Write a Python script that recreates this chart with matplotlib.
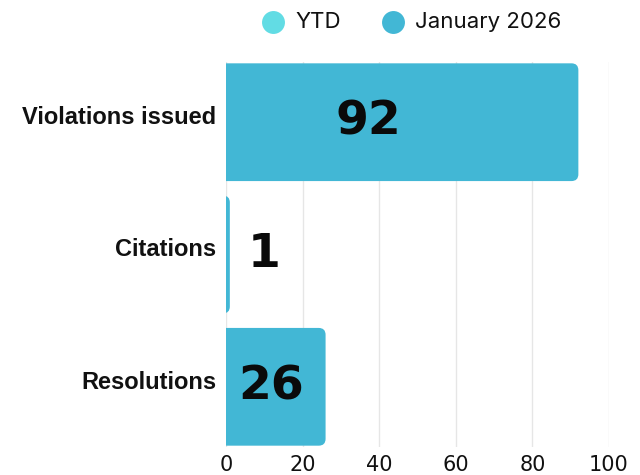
import matplotlib
matplotlib.use("Agg")
import matplotlib.pyplot as plt
import matplotlib.transforms as mtransforms
from matplotlib.patches import FancyBboxPatch
from matplotlib.lines import Line2D

categories = ["Violations issued", "Citations", "Resolutions"]
jan_2026 = [92, 1, 26]
ytd = [0, 0, 0]
series_names = ["YTD", "January 2026"]
xticks = [0, 20, 40, 60, 80, 100]

col_ytd = "#62DCE4"
col_jan = "#42B7D5"

W, H = 640, 475
fig = plt.figure(figsize=(6.4, 4.75), dpi=100)
ax = fig.add_axes([226 / W, 1 - 447 / H, (609 - 226) / W, (447 - 62) / H])

ypos = list(range(len(categories)))
bars = ax.barh(ypos, jan_2026, height=0.89, color=col_jan)
ax.set_xlim(0, 100)
ax.set_ylim(2.455, -0.455)

# replace bars with rounded versions (right corners rounded, left hidden by clip)
for b in bars:
    x0 = b.get_x()
    y0 = b.get_y()
    w = b.get_width()
    h = b.get_height()
    b.set_visible(False)
    p = FancyBboxPatch((x0 - 4, y0), w + 4, h,
                       boxstyle="round,pad=0,rounding_size=1.8",
                       mutation_aspect=0.029,
                       facecolor=col_jan, edgecolor="none", zorder=3)
    ax.add_patch(p)

# value labels
label_x = [37.2, 9.9, 11.7]
for yi, v, lx in zip(ypos, jan_2026, label_x):
    ax.text(lx, yi, str(v), ha="center", va="center", fontsize=34,
            fontweight="heavy", family="DejaVu Sans", color="#0a0a0a", zorder=5)

ax.set_xticks(xticks)
ax.set_xticklabels([str(t) for t in xticks], fontsize=15, family="DejaVu Sans", color="#111111")
ax.set_yticks(ypos)
ax.set_yticklabels(categories, fontsize=17, fontweight="bold",
                   family="Liberation Sans", color="#111111")
ax.tick_params(axis="both", length=0)
ax.tick_params(axis="x", pad=6)
ax.tick_params(axis="y", pad=7)
# category labels sit a little above bar centres
shift = mtransforms.ScaledTranslation(0, 7 / 100, fig.dpi_scale_trans)
for lbl in ax.get_yticklabels():
    lbl.set_transform(lbl.get_transform() + shift)
for s in ax.spines.values():
    s.set_visible(False)
ax.grid(axis="x", color="#e6e6e6", linewidth=1, zorder=0)
ax.set_axisbelow(True)

# legend drawn in figure pixel positions
leg_marker_x = [273, 393]
leg_text_x = [295, 415]
leg_y = 1 - 22 / H
for mx, tx, c, name in zip(leg_marker_x, leg_text_x, (col_ytd, col_jan), series_names):
    fig.add_artist(Line2D([mx / W], [leg_y], marker="o", linestyle="none",
                          markersize=16.5, markerfacecolor=c, markeredgecolor="none",
                          transform=fig.transFigure))
    fig.text(tx / W, leg_y, name, ha="left", va="center", family="Inter",
             fontsize=16, color="#111111")

fig.savefig("out.png", dpi=100)
